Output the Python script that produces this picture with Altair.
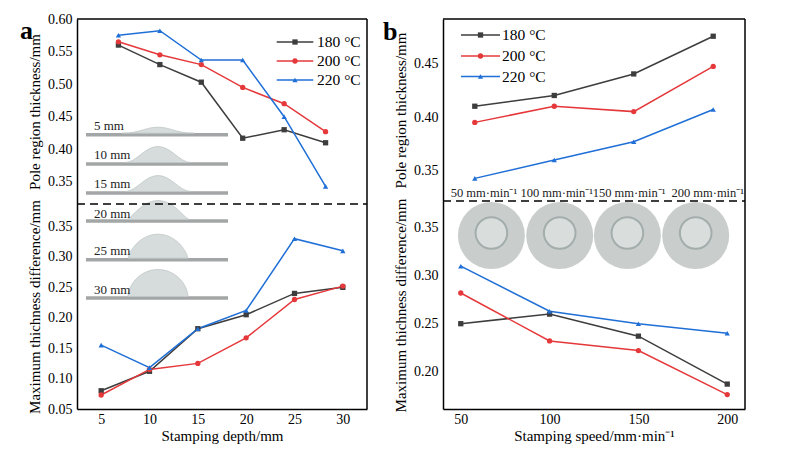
import altair as alt
import pandas as pd

FONT = "Liberation Serif"

series = ["180 °C", "200 °C", "220 °C"]
colors = ["#3d3d3d", "#e5383b", "#1f6fd6"]
shapes = ["square", "circle", "triangle-up"]

depth = [5, 10, 15, 20, 25, 30]
a_pole_180 = [0.560, 0.530, 0.503, 0.417, 0.430, 0.410]
a_pole_200 = [0.565, 0.545, 0.530, 0.495, 0.470, 0.427]
a_pole_220 = [0.575, 0.582, 0.537, 0.537, 0.450, 0.343]
a_diff_180 = [0.080, 0.112, 0.182, 0.205, 0.240, 0.250]
a_diff_200 = [0.073, 0.115, 0.125, 0.167, 0.230, 0.252]
a_diff_220 = [0.155, 0.118, 0.182, 0.212, 0.330, 0.310]

speed = [50, 100, 150, 200]
b_pole_180 = [0.410, 0.420, 0.440, 0.475]
b_pole_200 = [0.395, 0.410, 0.405, 0.447]
b_pole_220 = [0.343, 0.360, 0.377, 0.407]
b_diff_180 = [0.250, 0.260, 0.237, 0.187]
b_diff_200 = [0.282, 0.232, 0.222, 0.176]
b_diff_220 = [0.310, 0.263, 0.250, 0.240]

depth_labels_top = ["5 mm", "10 mm", "15 mm"]
depth_labels_bottom = ["20 mm", "25 mm", "30 mm"]
speed_labels = ["50 mm·min⁻¹", "100 mm·min⁻¹", "150 mm·min⁻¹", "200 mm·min⁻¹"]

color_scale = alt.Scale(domain=series, range=colors)
shape_scale = alt.Scale(domain=series, range=shapes)
ONE = pd.DataFrame({"k": [0]})


def long_df(x, cols):
    rows = []
    for s, ys in zip(series, cols):
        for xi, yi in zip(x, ys):
            rows.append({"x": xi, "y": yi, "s": s})
    return pd.DataFrame(rows)


def data_layers(df, xdom, ydom, xaxis, yaxis):
    base = alt.Chart(df).encode(
        x=alt.X("x:Q", scale=alt.Scale(domain=xdom, nice=False, zero=False), axis=xaxis),
        y=alt.Y("y:Q", scale=alt.Scale(domain=ydom, nice=False, zero=False), axis=yaxis),
        color=alt.Color("s:N", scale=color_scale, legend=None),
    )
    line = base.mark_line(strokeWidth=1.5)
    pts = base.mark_point(filled=True, size=28, opacity=1).encode(
        shape=alt.Shape("s:N", scale=shape_scale, legend=None)
    )
    return [line, pts]


def frame(W, H, top):
    lay = [alt.Chart(ONE).mark_rule(color="black", strokeWidth=1.5).encode(
        x=alt.value(W), y=alt.value(0), y2=alt.value(H))]
    if top:
        lay.append(alt.Chart(ONE).mark_rule(color="black", strokeWidth=1.5).encode(
            x=alt.value(0), x2=alt.value(W), y=alt.value(0)))
    else:
        lay.append(alt.Chart(ONE).mark_rule(color="black", strokeWidth=1.5, strokeDash=[8, 5]).encode(
            x=alt.value(0), x2=alt.value(W), y=alt.value(0)))
    return lay


def legend(x0, x1, xt, ys):
    lay = []
    for s, c, sh, yy in zip(series, colors, shapes, ys):
        d = pd.DataFrame({"s": [s]})
        lay.append(alt.Chart(d).mark_rule(color=c, strokeWidth=1.5).encode(
            x=alt.value(x0), x2=alt.value(x1), y=alt.value(yy)))
        lay.append(alt.Chart(d).mark_point(shape=sh, filled=True, size=28, color=c, opacity=1).encode(
            x=alt.value((x0 + x1) / 2), y=alt.value(yy)))
        lay.append(alt.Chart(d).mark_text(align="left", baseline="middle", fontSize=15.5, font=FONT,
                                          color="black").encode(
            x=alt.value(xt), y=alt.value(yy), text="s:N"))
    return lay


def dome_path(W, H, p, q, r):
    h = 2.0 * H / W
    return (f"M-1,0 C{-1 + p:.3f},{-q * h:.3f} {-r:.3f},{-h:.3f} 0,{-h:.3f} "
            f"C{r:.3f},{-h:.3f} {1 - p:.3f},{-q * h:.3f} 1,0 Z")


def domes(labels, strip_y, label_y, dims):
    lay = []
    for lab, sy, ly, (W, H, p, q, r) in zip(labels, strip_y, label_y, dims):
        d = pd.DataFrame({"t": [lab]})
        lay.append(alt.Chart(d).mark_rule(color="#a3a6a6", strokeWidth=3.5).encode(
            x=alt.value(9), x2=alt.value(151), y=alt.value(sy)))
        lay.append(alt.Chart(d).mark_point(shape=dome_path(W, H, p, q, r), filled=True, size=W * W,
                                           color="#d5dcdb", opacity=1, stroke="#c0c7c6",
                                           strokeWidth=0.8).encode(
            x=alt.value(81), y=alt.value(sy - 1.5)))
        lay.append(alt.Chart(d).mark_text(align="left", baseline="middle", fontSize=13, font=FONT,
                                          color="#222222").encode(
            x=alt.value(17), y=alt.value(ly), text="t:N"))
    return lay


def panel_label(txt, x, y):
    d = pd.DataFrame({"t": [txt]})
    return alt.Chart(d).mark_text(align="left", baseline="alphabetic", fontSize=26, font=FONT,
                                  fontWeight="bold", color="black").encode(
        x=alt.value(x), y=alt.value(y), text="t:N")


# ---------- panel a ----------
AW, ATH, ABH = 290, 185, 205
a_top = alt.layer(
    *domes(depth_labels_top, [115.7, 145, 174], [106.7, 135.5, 165],
           [(72, 6, 0.5, 0.0, 0.35), (66, 16, 0.35, 0.0, 0.4), (66, 16, 0.35, 0.0, 0.4)]),
    *data_layers(long_df(depth, [a_pole_180, a_pole_200, a_pole_220]), [0, 35], [0.316, 0.60],
                 None,
                 alt.Axis(values=[0.35, 0.40, 0.45, 0.50, 0.55, 0.60], format=".2f",
                          title="Pole region thickness/mm")),
    *frame(AW, ATH, True),
    *legend(199.7, 236.3, 240, [23, 42, 61]),
    panel_label("a", -57, 20),
).properties(width=AW, height=ATH)

a_bot = alt.layer(
    *domes(depth_labels_bottom, [17, 55.7, 94], [10, 46.7, 85.7],
           [(62, 19, 0.2, 0.15, 0.5), (60, 24, 0.08, 0.4, 0.55), (60, 27, 0.03, 0.5, 0.55)]),
    *data_layers(long_df(depth, [a_diff_180, a_diff_200, a_diff_220]), [2.5, 32.5], [0.05, 0.387],
                 alt.Axis(values=depth, format="d", title="Stamping depth/mm"),
                 alt.Axis(values=[0.05, 0.10, 0.15, 0.20, 0.25, 0.30, 0.35], format=".2f",
                          title="Maximum thichness difference/mm")),
    *frame(AW, ABH, False),
).properties(width=AW, height=ABH)

panel_a = alt.vconcat(a_top, a_bot, spacing=0, bounds="flush")

# ---------- panel b ----------
BW, BTH, BBH = 302, 182, 208
circ_x = [48.4, 116.7, 184.4, 252.7]
lab_x = [7.7, 77.4, 149.7, 228.4]

b_labels = [alt.Chart(pd.DataFrame({"t": [t]})).mark_text(
    align="left", baseline="middle", fontSize=12.5, font=FONT, color="#222222").encode(
    x=alt.value(xx), y=alt.value(174), text="t:N") for t, xx in zip(speed_labels, lab_x)]

b_top = alt.layer(
    *data_layers(long_df(speed, [b_pole_180, b_pole_200, b_pole_220]), [30, 220], [0.322, 0.491],
                 None,
                 alt.Axis(values=[0.35, 0.40, 0.45], format=".2f",
                          title="Pole region thickness/mm")),
    *b_labels,
    *frame(BW, BTH, True),
    *legend(18, 57, 59, [16, 37, 57.5]),
    panel_label("b", -60, 21),
).properties(width=BW, height=BTH)

photos = []
for cx in circ_x:
    photos.append(alt.Chart(ONE).mark_point(shape="circle", filled=True, size=4489,
                                            color="#c9cecd", opacity=1).encode(
        x=alt.value(cx), y=alt.value(34.5)))
    photos.append(alt.Chart(ONE).mark_point(shape="circle", filled=True, size=1000,
                                            color="#d9dedd", opacity=1, stroke="#a3adab",
                                            strokeWidth=2).encode(
        x=alt.value(cx), y=alt.value(32)))

b_bot = alt.layer(
    *photos,
    *data_layers(long_df(speed, [b_diff_180, b_diff_200, b_diff_220]), [40, 210], [0.161, 0.378],
                 alt.Axis(values=speed, format="d", title="Stamping speed/mm·min⁻¹"),
                 alt.Axis(values=[0.20, 0.25, 0.30, 0.35], format=".2f",
                          title="Maximum thichness difference/mm")),
    *frame(BW, BBH, False),
).properties(width=BW, height=BBH)

panel_b = alt.vconcat(b_top, b_bot, spacing=0, bounds="flush")

chart = alt.hconcat(panel_a, panel_b, spacing=15).properties(
    padding={"left": 12, "top": 4, "right": 5, "bottom": 5}
).configure_view(strokeWidth=0).configure_axis(
    labelFont=FONT, titleFont=FONT, labelFontSize=14, titleFontSize=15,
    titleFontWeight="normal", labelColor="black", titleColor="black",
    domainColor="black", domainWidth=1.5, ticks=False, grid=False,
    labelPadding=5, titlePadding=5,
).configure_axisX(labelPadding=3, titlePadding=2)

chart.save("out.html", embed_options={"renderer": "svg", "actions": False})
